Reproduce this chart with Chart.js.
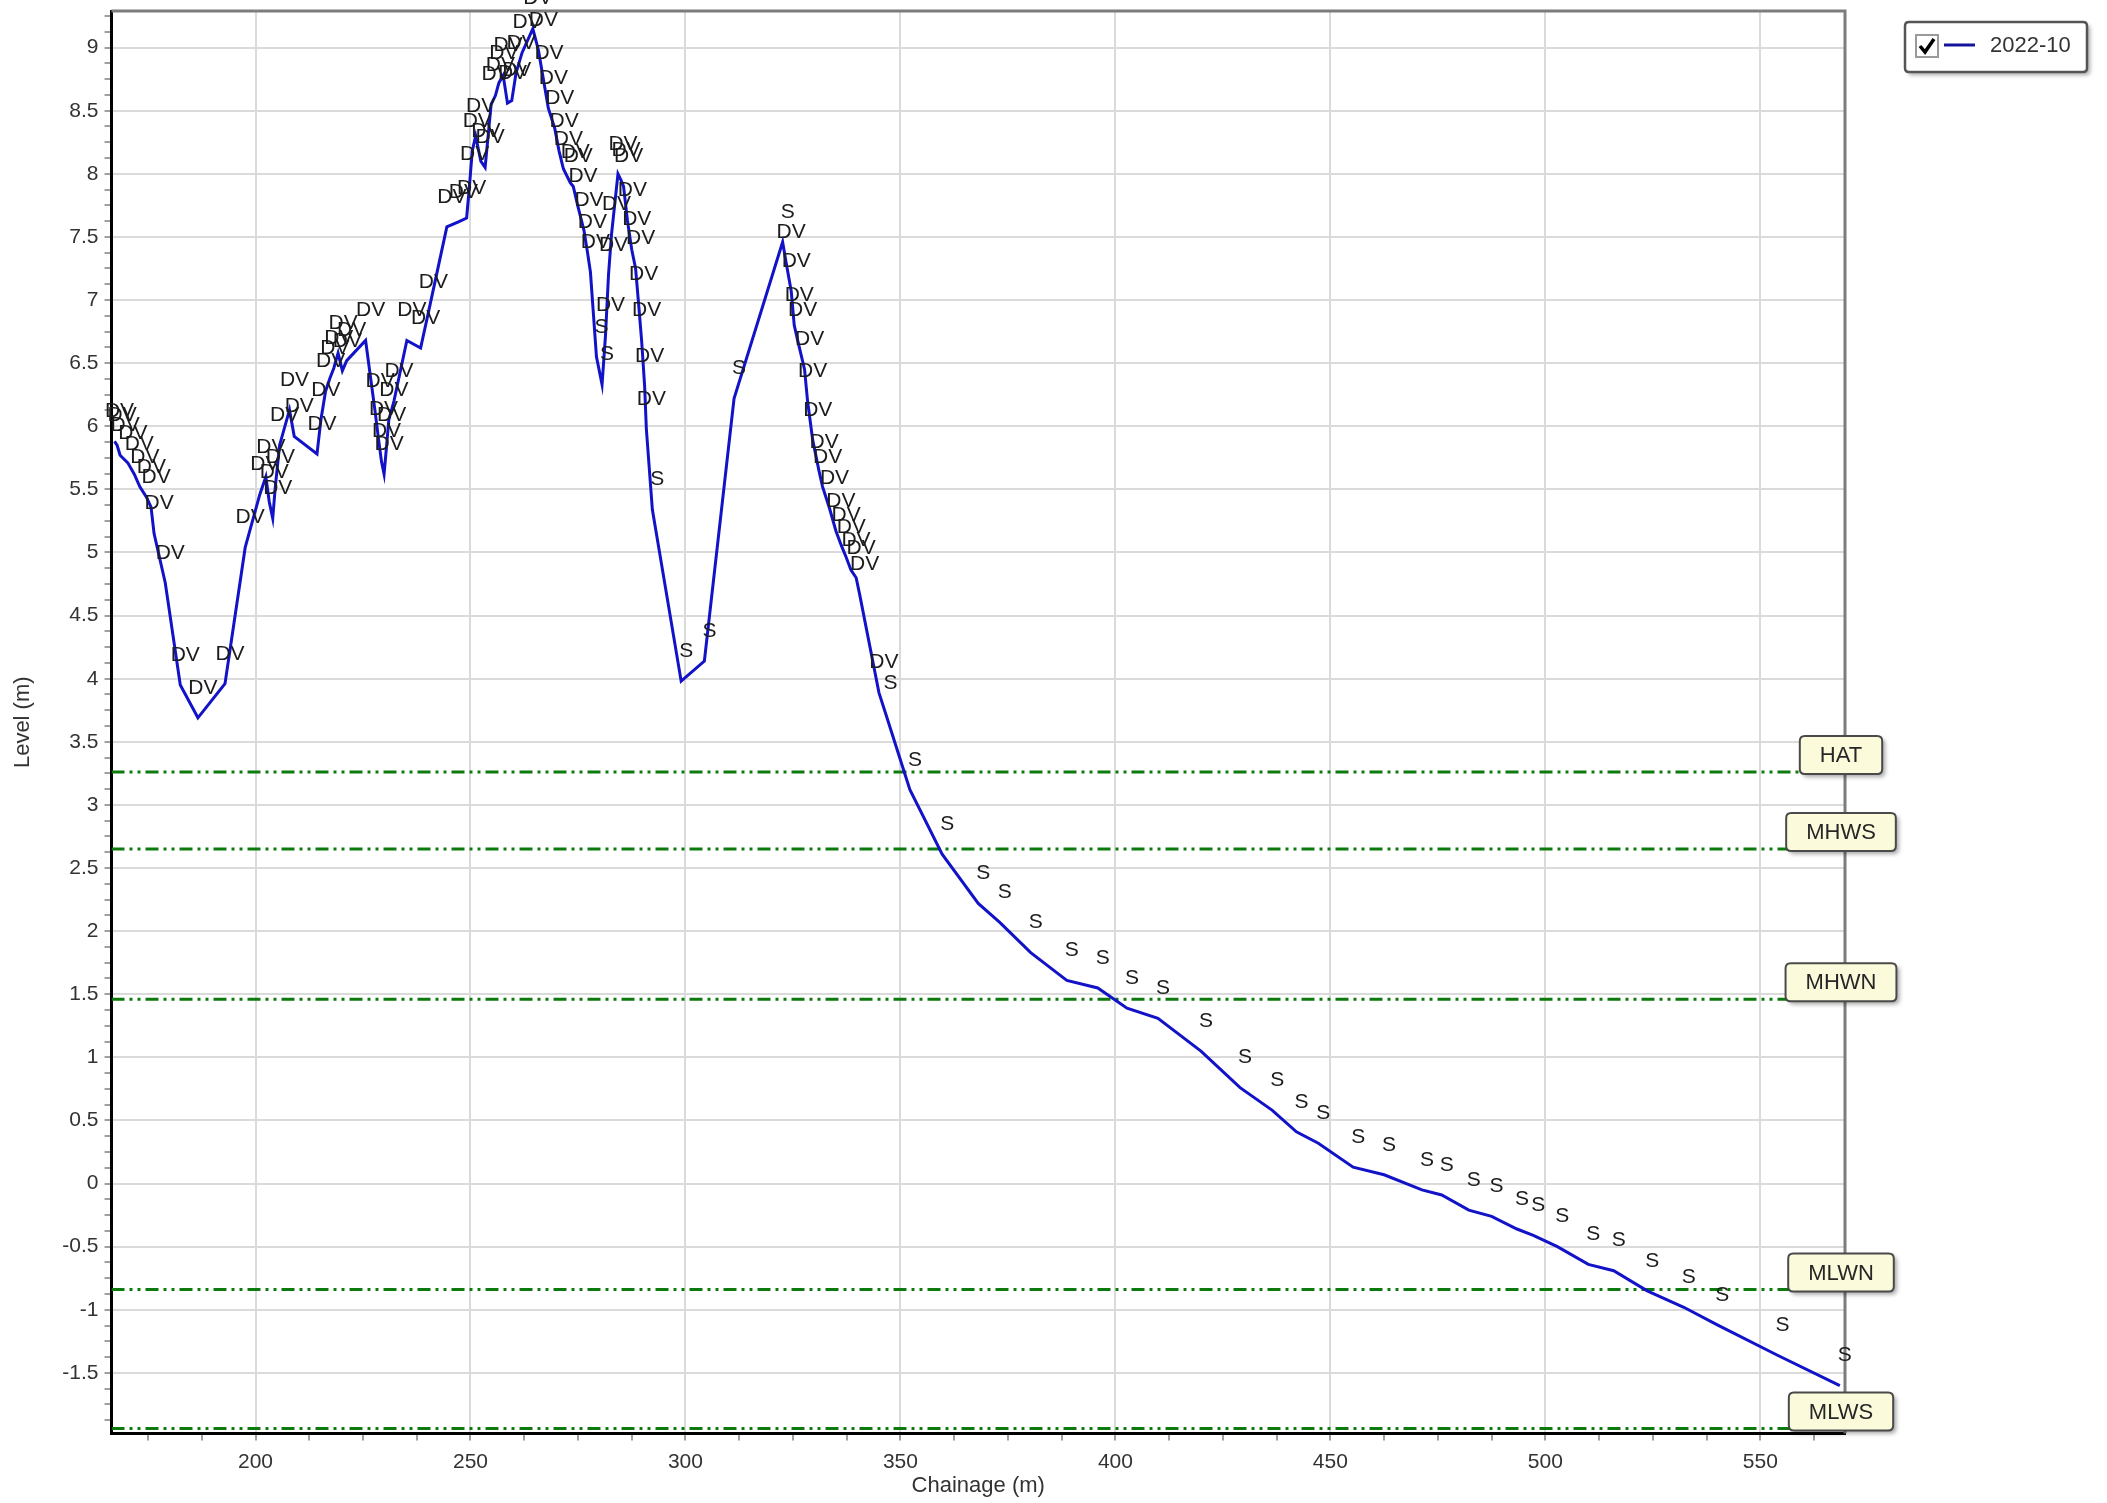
<!DOCTYPE html>
<html>
<head>
<meta charset="utf-8">
<title>Beach profile 2022-10</title>
<script src="https://cdn.jsdelivr.net/npm/chart.js@4.4.1/dist/chart.umd.min.js"></script>
<style>
  html, body { margin: 0; padding: 0; background: #fff; }
  #wrap { width: 2107px; height: 1503px; }
</style>
</head>
<body>
<div id="wrap"><canvas id="profileChart" width="2107" height="1503"></canvas></div>
<script>
// surveyed profile: chainage (m), level (m) and the point code of each shot
const chainage = [
  167.2, 167.8, 168.5, 170.3, 171.8, 173.1, 174.6, 175.7, 176.4, 179.0,
  182.5, 186.6, 192.9, 197.6, 201.0, 202.4, 203.2, 204.0, 204.6, 205.6,
  207.9, 209.0, 214.3, 215.2, 216.3, 217.3, 218.2, 219.2, 220.2, 221.2,
  225.6, 227.8, 228.6, 229.3, 229.9, 230.5, 231.0, 232.2, 235.2, 238.4,
  240.2, 244.5, 247.2, 249.1, 249.8, 250.4, 251.2, 252.4, 253.4, 254.8,
  255.8, 256.6, 257.6, 258.6, 259.6, 260.6, 262.0, 264.5, 265.8, 267.1,
  268.1, 269.6, 270.6, 271.6, 273.2, 273.9, 275.0, 276.4, 277.2, 277.9,
  279.3, 280.6, 281.4, 282.1, 282.8, 284.3, 285.0, 285.6, 286.5, 287.5,
  288.4, 289.1, 289.8, 290.5, 290.9, 292.3, 299.0, 304.4, 311.3, 322.6,
  323.4, 324.6, 325.3, 326.1, 327.7, 328.4, 329.6, 331.1, 331.9, 333.5,
  335.0, 336.2, 337.4, 338.5, 339.7, 340.5, 345.0, 346.5, 352.2, 359.7,
  368.1, 373.1, 380.3, 388.7, 395.9, 402.7, 409.9, 419.9, 429.0, 436.5,
  442.1, 447.2, 455.3, 462.5, 471.3, 475.9, 482.2, 487.5, 493.4, 497.2,
  502.8, 510.0, 515.9, 523.7, 532.2, 540.0, 554.0, 568.5
];
const level = [
  5.88, 5.85, 5.77, 5.71, 5.62, 5.52, 5.44, 5.36, 5.15, 4.76,
  3.95, 3.69, 3.96, 5.04, 5.46, 5.60, 5.40, 5.27, 5.52, 5.85,
  6.13, 5.92, 5.78, 6.05, 6.28, 6.38, 6.46, 6.58, 6.44, 6.52,
  6.68, 6.12, 5.90, 5.72, 5.62, 5.85, 6.05, 6.20, 6.68, 6.62,
  6.90, 7.58, 7.62, 7.65, 7.92, 8.18, 8.30, 8.10, 8.05, 8.55,
  8.62, 8.72, 8.78, 8.56, 8.58, 8.80, 8.96, 9.15, 8.98, 8.72,
  8.52, 8.36, 8.18, 8.04, 7.93, 7.90, 7.74, 7.55, 7.38, 7.22,
  6.55, 6.33, 6.72, 7.20, 7.52, 8.00, 7.95, 7.90, 7.63, 7.40,
  7.25, 6.97, 6.68, 6.32, 5.98, 5.34, 3.98, 4.14, 6.22, 7.46,
  7.30, 7.07, 6.80, 6.68, 6.45, 6.20, 5.89, 5.64, 5.52, 5.35,
  5.17, 5.06, 4.96, 4.86, 4.80, 4.67, 3.89, 3.73, 3.12, 2.61,
  2.22, 2.07, 1.83, 1.61, 1.55, 1.39, 1.31, 1.05, 0.76, 0.58,
  0.41, 0.32, 0.13, 0.07, -0.05, -0.09, -0.21, -0.26, -0.36, -0.41,
  -0.50, -0.64, -0.69, -0.85, -0.98, -1.12, -1.36, -1.60
];
const pointCode = [
  'DV', 'DV', 'DV', 'DV', 'DV', 'DV', 'DV', 'DV', 'DV', 'DV',
  'DV', 'DV', 'DV', 'DV', 'DV', 'DV', 'DV', 'DV', 'DV', 'DV',
  'DV', 'DV', 'DV', 'DV', 'DV', 'DV', 'DV', 'DV', 'DV', 'DV',
  'DV', 'DV', 'DV', 'DV', 'DV', 'DV', 'DV', 'DV', 'DV', 'DV',
  'DV', 'DV', 'DV', 'DV', 'DV', 'DV', 'DV', 'DV', 'DV', 'DV',
  'DV', 'DV', 'DV', 'DV', 'DV', 'DV', 'DV', 'DV', 'DV', 'DV',
  'DV', 'DV', 'DV', 'DV', 'DV', 'DV', 'DV', 'DV', 'DV', 'DV',
  'S', 'S', 'DV', 'DV', 'DV', 'DV', 'DV', 'DV', 'DV', 'DV',
  'DV', 'DV', 'DV', 'DV', 'DV', 'S', 'S', 'S', 'S', 'S',
  'DV', 'DV', 'DV', 'DV', 'DV', 'DV', 'DV', 'DV', 'DV', 'DV',
  'DV', 'DV', 'DV', 'DV', 'DV', 'DV', 'DV', 'S', 'S', 'S',
  'S', 'S', 'S', 'S', 'S', 'S', 'S', 'S', 'S', 'S',
  'S', 'S', 'S', 'S', 'S', 'S', 'S', 'S', 'S', 'S',
  'S', 'S', 'S', 'S', 'S', 'S', 'S', 'S'
];

// tidal datums (m)
const tideNames = ['HAT', 'MHWS', 'MHWN', 'MLWN', 'MLWS'];
const tideLevels = [3.26, 2.65, 1.46, -0.84, -1.94];

const surveyName = '2022-10';

const xMin = 166.5, xMax = 569.7;
const yMin = -1.98, yMax = 9.29;
const xMajor = 50, xMinor = 12.5;
const yMajor = 0.5, yMinor = 0.125;

const FONT = '"Liberation Sans", Arial, Helvetica, sans-serif';
Chart.defaults.font.family = FONT;

function isMajor(v, step) {
  return Math.abs(v / step - Math.round(v / step)) < 1e-6;
}

function roundRect(ctx, x, y, w, h, r) {
  ctx.beginPath();
  ctx.moveTo(x + r, y);
  ctx.lineTo(x + w - r, y);
  ctx.quadraticCurveTo(x + w, y, x + w, y + r);
  ctx.lineTo(x + w, y + h - r);
  ctx.quadraticCurveTo(x + w, y + h, x + w - r, y + h);
  ctx.lineTo(x + r, y + h);
  ctx.quadraticCurveTo(x, y + h, x, y + h - r);
  ctx.lineTo(x, y + r);
  ctx.quadraticCurveTo(x, y, x + r, y);
  ctx.closePath();
}

const profilePoints = chainage.map((c, i) => ({ x: c, y: level[i] }));

const datasets = [{
  label: surveyName,
  data: profilePoints,
  borderColor: '#1212c8',
  borderWidth: 3,
  pointRadius: 0,
  tension: 0,
  fill: false
}];

tideLevels.forEach((lv, i) => {
  datasets.push({
    label: tideNames[i],
    data: [{ x: xMin, y: lv }, { x: xMax, y: lv }],
    borderColor: '#0c7a0c',
    borderWidth: 3,
    borderDash: [13, 5, 3, 5, 3, 5],
    pointRadius: 0,
    fill: false
  });
});

// grey top/right frame, point codes, datum tags and the legend box
const overlay = {
  id: 'profileOverlay',
  afterDatasetsDraw(chart) {
    const ctx = chart.ctx;
    const xs = chart.scales.x, ys = chart.scales.y;
    const area = chart.chartArea;
    ctx.save();

    ctx.strokeStyle = '#7c7c7c';
    ctx.lineWidth = 3;
    ctx.beginPath();
    ctx.moveTo(area.left, area.top);
    ctx.lineTo(area.right, area.top);
    ctx.lineTo(area.right, area.bottom);
    ctx.stroke();

    ctx.font = '21px ' + FONT;
    ctx.fillStyle = '#1c1c1c';
    ctx.textAlign = 'center';
    ctx.textBaseline = 'middle';
    for (let i = 0; i < chainage.length; i++) {
      const px = xs.getPixelForValue(chainage[i]);
      const py = ys.getPixelForValue(level[i]);
      ctx.fillText(pointCode[i], px + 5, py - 30);
    }

    ctx.font = '22px ' + FONT;
    tideLevels.forEach((lv, i) => {
      const py = ys.getPixelForValue(lv);
      const w = ctx.measureText(tideNames[i]).width + 40;
      const h = 38;
      const cx = area.right - 4;
      const x0 = cx - w / 2, y0 = py + 2 - h;
      ctx.save();
      ctx.shadowColor = 'rgba(0,0,0,0.35)';
      ctx.shadowBlur = 4;
      ctx.shadowOffsetX = 3;
      ctx.shadowOffsetY = 3;
      roundRect(ctx, x0, y0, w, h, 5);
      ctx.fillStyle = '#fbfbdc';
      ctx.fill();
      ctx.restore();
      roundRect(ctx, x0, y0, w, h, 5);
      ctx.strokeStyle = '#4a4a4a';
      ctx.lineWidth = 2;
      ctx.stroke();
      ctx.fillStyle = '#262626';
      ctx.fillText(tideNames[i], cx, y0 + h / 2 + 1);
    });
    ctx.restore();
  },
  afterDraw(chart) {
    const ctx = chart.ctx;
    ctx.save();
    const bx = 1905, by = 22, bw = 182, bh = 50;
    ctx.save();
    ctx.shadowColor = 'rgba(0,0,0,0.35)';
    ctx.shadowBlur = 4;
    ctx.shadowOffsetX = 3;
    ctx.shadowOffsetY = 3;
    roundRect(ctx, bx, by, bw, bh, 4);
    ctx.fillStyle = '#fff';
    ctx.fill();
    ctx.restore();
    roundRect(ctx, bx, by, bw, bh, 4);
    ctx.strokeStyle = '#555';
    ctx.lineWidth = 2.5;
    ctx.stroke();

    // checkbox
    ctx.fillStyle = '#fff';
    ctx.fillRect(1916, 35, 22, 22);
    ctx.strokeStyle = '#9a9a9a';
    ctx.lineWidth = 2;
    ctx.strokeRect(1916, 35, 22, 22);
    ctx.strokeStyle = '#000';
    ctx.lineWidth = 3.5;
    ctx.beginPath();
    ctx.moveTo(1920, 46);
    ctx.lineTo(1925, 52);
    ctx.lineTo(1934, 39);
    ctx.stroke();

    ctx.strokeStyle = '#14149a';
    ctx.lineWidth = 3;
    ctx.beginPath();
    ctx.moveTo(1944, 45);
    ctx.lineTo(1975, 45);
    ctx.stroke();

    ctx.font = '22px ' + FONT;
    ctx.fillStyle = '#333';
    ctx.textAlign = 'left';
    ctx.textBaseline = 'middle';
    ctx.fillText(surveyName, 1990, 46);
    ctx.restore();
  }
};

const config = {
  type: 'line',
  data: { datasets: datasets },
  options: {
    responsive: false,
    animation: false,
    devicePixelRatio: 1,
    layout: { padding: { top: 11, right: 262, bottom: 0, left: 0 } },
    plugins: {
      legend: { display: false },
      tooltip: { enabled: false }
    },
    scales: {
      x: {
        type: 'linear',
        min: xMin,
        max: xMax,
        afterFit: (s) => {
          s.height = 69.5;
          s.paddingLeft = 0;
          s.paddingRight = 0;
        },
        ticks: {
          stepSize: xMinor,
          includeBounds: false,
          autoSkip: false,
          maxRotation: 0,
          padding: 9,
          color: '#333',
          font: { size: 21 },
          callback: (v) => isMajor(v, xMajor) ? String(v) : ''
        },
        grid: {
          color: (c) => (c.tick && isMajor(c.tick.value, xMajor)) ? '#dadada' : 'rgba(0,0,0,0)',
          lineWidth: 2,
          tickColor: '#a0a0a0',
          tickLength: 7,
          tickWidth: 2
        },
        border: { display: true, color: '#000', width: 3 },
        title: {
          display: true,
          text: 'Chainage (m)',
          color: '#333',
          font: { size: 22 },
          padding: { top: 0, bottom: 4 }
        }
      },
      y: {
        type: 'linear',
        min: yMin,
        max: yMax,
        afterFit: (s) => {
          s.width = 111.5;
          s.paddingTop = 0;
          s.paddingBottom = 0;
        },
        ticks: {
          stepSize: yMinor,
          includeBounds: false,
          autoSkip: false,
          padding: 6,
          color: '#333',
          font: { size: 21 },
          callback: (v) => isMajor(v, yMajor) ? String(v) : ''
        },
        grid: {
          color: (c) => (c.tick && isMajor(c.tick.value, yMajor)) ? '#dadada' : 'rgba(0,0,0,0)',
          lineWidth: 2,
          tickColor: '#a0a0a0',
          tickLength: 7,
          tickWidth: 2
        },
        border: { display: true, color: '#000', width: 3 },
        title: {
          display: true,
          text: 'Level (m)',
          color: '#333',
          font: { size: 22 },
          padding: { top: 10, bottom: 0 }
        }
      }
    }
  },
  plugins: [overlay]
};

const profileChart = new Chart(document.getElementById('profileChart'), config);
</script>
</body>
</html>
